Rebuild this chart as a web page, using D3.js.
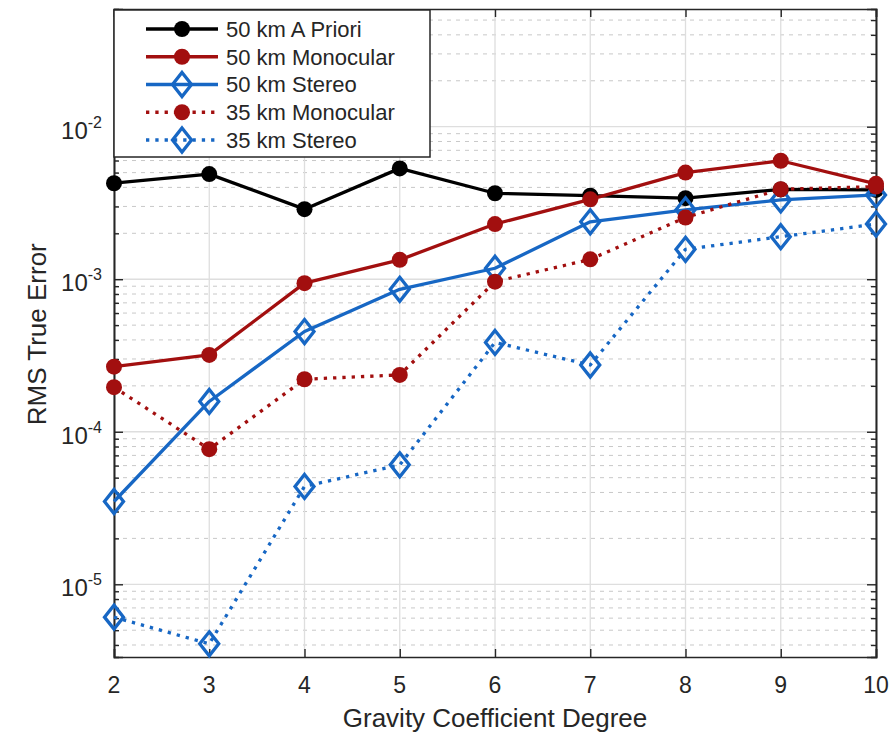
<!DOCTYPE html>
<html>
<head>
<meta charset="utf-8">
<script src="https://cdn.jsdelivr.net/npm/d3@7"></script>
<style>
  body { margin: 0; background: #fff; }
  text { font-family: "Liberation Sans", Arial, sans-serif; fill: #262626; }
</style>
</head>
<body>
<svg id="chart" width="894" height="733"></svg>
<script>
// gravity coefficient degrees
var degrees = [2, 3, 4, 5, 6, 7, 8, 9, 10];

// RMS true error
var apriori50 = [4.26e-3, 4.89e-3, 2.88e-3, 5.33e-3, 3.66e-3, 3.53e-3, 3.40e-3, 3.88e-3, 3.85e-3];
var mono50    = [2.67e-4, 3.19e-4, 9.42e-4, 1.34e-3, 2.30e-3, 3.34e-3, 5.00e-3, 5.98e-3, 4.22e-3];
var stereo50  = [3.49e-5, 1.58e-4, 4.54e-4, 8.59e-4, 1.18e-3, 2.38e-3, 2.85e-3, 3.31e-3, 3.57e-3];
var mono35    = [1.96e-4, 7.69e-5, 2.21e-4, 2.36e-4, 9.64e-4, 1.35e-3, 2.54e-3, 3.89e-3, 4.05e-3];
var stereo35  = [6.09e-6, 4.07e-6, 4.38e-5, 6.07e-5, 3.85e-4, 2.74e-4, 1.57e-3, 1.90e-3, 2.30e-3];

var seriesNames = ['50 km A Priori', '50 km Monocular', '50 km Stereo', '35 km Monocular', '35 km Stereo'];
var yTickExps = [-5, -4, -3, -2];
var yLimits = [3.337e-6, 0.0591];

var RED = '#a20f0f', BLUE = '#1767c4', AXIS = '#262626';

var series = [
  {name: seriesNames[0], values: apriori50, color: '#000', dotted: false, marker: 'circle'},
  {name: seriesNames[1], values: mono50, color: RED, dotted: false, marker: 'circle'},
  {name: seriesNames[2], values: stereo50, color: BLUE, dotted: false, marker: 'diamond'},
  {name: seriesNames[3], values: mono35, color: RED, dotted: true, marker: 'circle'},
  {name: seriesNames[4], values: stereo35, color: BLUE, dotted: true, marker: 'diamond'}
];

var margin = {top: 9, right: 18, bottom: 76, left: 114};
var width = 894 - margin.left - margin.right;
var height = 733 - margin.top - margin.bottom;

var svg = d3.select('#chart');
var g = svg.append('g')
    .attr('transform', 'translate(' + margin.left + ',' + margin.top + ')')
    ;

var x = d3.scaleLinear().domain([2, 10]).range([0, width]);
var y = d3.scaleLog().domain(yLimits).range([height, 0]);

// minor values inside the limits
var minorVals = [];
for (var e = -6; e <= -2; e++) {
  for (var k = 2; k <= 9; k++) {
    var v = k * Math.pow(10, e);
    if (v > yLimits[0] && v < yLimits[1]) minorVals.push(v);
  }
}
var majorVals = yTickExps.map(function(p){return Math.pow(10, p);});

// grid
g.append('g').selectAll('line.minor')
    .data(minorVals)
    .enter().append('line')
    .attr('x1', 0).attr('x2', width)
    .attr('y1', function(d){return y(d);})
    .attr('y2', function(d){return y(d);})
    .attr('stroke', '#c8c8c8')
    .attr('stroke-width', 1)
    .attr('stroke-dasharray', '4,5')
  ;

g.append('g').selectAll('line.xgrid')
    .data(degrees)
    .enter().append('line')
    .attr('x1', function(d){return x(d);})
    .attr('x2', function(d){return x(d);})
    .attr('y1', 0).attr('y2', height)
    .attr('stroke', '#dedede')
    .attr('stroke-width', 1.3)
  ;

g.append('g').selectAll('line.ygrid')
    .data(majorVals)
    .enter().append('line')
    .attr('x1', 0).attr('x2', width)
    .attr('y1', function(d){return y(d);})
    .attr('y2', function(d){return y(d);})
    .attr('stroke', '#dedede')
    .attr('stroke-width', 1.3)
  ;

// axes (inward ticks, box)
var xAxisBottom = d3.axisBottom(x).tickValues(degrees).tickSize(-8).tickFormat('');
var xAxisTop = d3.axisTop(x).tickValues(degrees).tickSize(-8).tickFormat('');
var yAxisLeft = d3.axisLeft(y).tickValues(majorVals).tickSize(-9).tickFormat('');
var yAxisRight = d3.axisRight(y).tickValues(majorVals).tickSize(-9).tickFormat('');
var yMinorLeft = d3.axisLeft(y).tickValues(minorVals).tickSize(-5).tickFormat('');
var yMinorRight = d3.axisRight(y).tickValues(minorVals).tickSize(-5).tickFormat('');

var axes = [
  [xAxisBottom, 'translate(0,' + height + ')'],
  [xAxisTop, 'translate(0,0)'],
  [yAxisLeft, 'translate(0,0)'],
  [yAxisRight, 'translate(' + width + ',0)'],
  [yMinorLeft, 'translate(0,0)'],
  [yMinorRight, 'translate(' + width + ',0)']
];
axes.forEach(function(a) {
  var ax = g.append('g').attr('transform', a[1]).call(a[0]);
  ax.selectAll('path.domain').attr('stroke', AXIS).attr('stroke-width', 1.6);
  ax.selectAll('.tick line').attr('stroke', AXIS).attr('stroke-width', 1.4);
});

// x tick labels
g.append('g').selectAll('text.xtick')
    .data(degrees)
    .enter().append('text')
    .attr('x', function(d){return x(d);})
    .attr('y', height + 36)
    .attr('text-anchor', 'middle')
    .style('font-size', '23px')
    .text(function(d){return d;})
  ;

// y tick labels 10^n
var ylab = g.append('g').selectAll('text.ytick')
    .data(yTickExps)
    .enter().append('text')
    .attr('x', -12)
    .attr('y', function(d){return y(Math.pow(10, d)) + 12;})
    .attr('text-anchor', 'end')
    .style('font-size', '24px')
  ;
ylab.append('tspan').text('10');
ylab.append('tspan')
    .attr('dy', -11)
    .style('font-size', '16px')
    .text(function(d){return d;})
  ;

// axis titles
g.append('text')
    .attr('x', width / 2)
    .attr('y', height + 70)
    .attr('text-anchor', 'middle')
    .style('font-size', '26px')
    .text('Gravity Coefficient Degree')
  ;

g.append('text')
    .attr('transform', 'translate(-68,' + (y(1e-3) + 55) + ') rotate(-90)')
    .attr('text-anchor', 'middle')
    .style('font-size', '26px')
    .text('RMS True Error')
  ;

// series lines and markers
var line = d3.line()
    .x(function(d, i){return x(degrees[i]);})
    .y(function(d){return y(d);})
  ;

function diamondPath(cx, cy) {
  var hw = 9.5, hh = 12;
  return 'M' + cx + ',' + (cy - hh) + 'L' + (cx + hw) + ',' + cy +
         'L' + cx + ',' + (cy + hh) + 'L' + (cx - hw) + ',' + cy + 'Z';
}

function drawMarker(sel, s, cx, cy) {
  if (s.marker === 'circle') {
    sel.append('circle')
        .attr('cx', cx).attr('cy', cy).attr('r', 8)
        .attr('fill', s.color)
      ;
  } else {
    sel.append('path')
        .attr('d', diamondPath(cx, cy))
        .attr('fill', 'none')
        .attr('stroke', s.color)
        .attr('stroke-width', 3.3)
      ;
  }
}

series.forEach(function(s) {
  var sg = g.append('g');
  sg.append('path')
      .datum(s.values)
      .attr('d', line)
      .attr('fill', 'none')
      .attr('stroke', s.color)
      .attr('stroke-width', 3.3)
      .attr('stroke-linejoin', 'round')
      .attr('stroke-dasharray', s.dotted ? '3.3,6' : null)
    ;
  s.values.forEach(function(v, i) {
    drawMarker(sg, s, x(degrees[i]), y(v));
  });
});

// legend
var legend = svg.append('g');
legend.append('rect')
    .attr('x', 114).attr('y', 10)
    .attr('width', 316).attr('height', 147)
    .attr('fill', '#fff')
    .attr('stroke', AXIS)
    .attr('stroke-width', 1.5)
  ;

var items = legend.selectAll('g.item')
    .data(series)
    .enter().append('g')
    .attr('transform', function(d, i){return 'translate(0,' + (29 + i * 27.75) + ')';})
  ;

items.append('line')
    .attr('x1', 146).attr('x2', 218)
    .attr('y1', 0).attr('y2', 0)
    .attr('stroke', function(d){return d.color;})
    .attr('stroke-width', 3.3)
    .attr('stroke-dasharray', function(d){return d.dotted ? '3.3,6' : null;})
  ;

items.each(function(d) {
  drawMarker(d3.select(this), d, 182, 0);
});

items.append('text')
    .attr('x', 226)
    .attr('y', 0)
    .attr('dy', '0.36em')
    .style('font-size', '22px')
    .text(function(d){return d.name;})
  ;
</script>
</body>
</html>
